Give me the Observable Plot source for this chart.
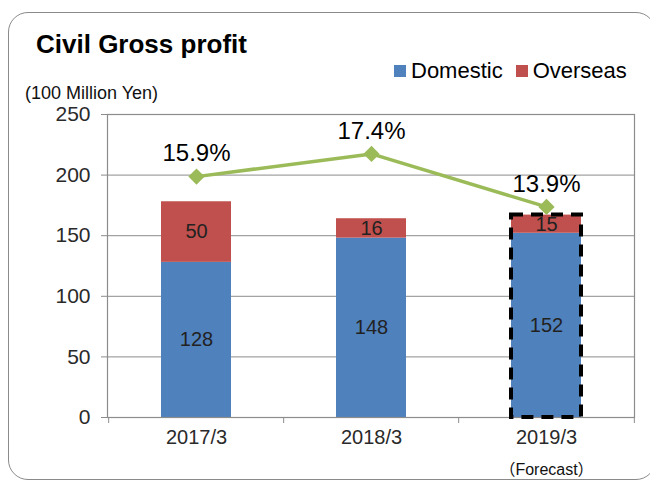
<!DOCTYPE html>
<html>
<head>
<meta charset="utf-8">
<script src="https://cdn.jsdelivr.net/npm/d3@7"></script>
<script src="https://cdn.jsdelivr.net/npm/@observablehq/plot@0.6"></script>
<style>
  html, body { margin: 0; padding: 0; background: #fff; }
  body { font-family: "Liberation Sans", Arial, "Noto Sans CJK JP", sans-serif; color: #000; }
  #wrap { position: relative; width: 650px; height: 484px; overflow: hidden; }
  #border { position: absolute; left: 8px; top: 12px; width: 648px; height: 468px;
            border: 1.5px solid #8a8a8a; border-radius: 20px; box-sizing: border-box; }
  #title { position: absolute; left: 36px; top: 31px; font-size: 26px; font-weight: bold; line-height: 1; white-space: nowrap; }
  #unit { position: absolute; left: 25px; top: 84px; font-size: 18px; line-height: 1; white-space: nowrap; color: #111; }
  #legend { position: absolute; left: 394px; top: 60px; display: flex; align-items: center; font-size: 22px; line-height: 1; white-space: nowrap; }
  #legend .sw { width: 12px; height: 12px; margin-right: 5px; }
  #legend .item { display: flex; align-items: center; margin-right: 13px; }
  #chart { position: absolute; left: 0; top: 0; }
</style>
</head>
<body>
<div id="wrap">
  <div id="chart"></div>
  <div id="border"></div>
  <div id="title"></div>
  <div id="unit"></div>
  <div id="legend"></div>
</div>
<script>
// ---- data ----
const titleText = "Civil Gross profit";
const unitText = "(100 Million Yen)";
const categories = ["2017/3", "2018/3", "2019/3"];
const seriesNames = ["Domestic", "Overseas"];
const seriesColors = ["#4F81BD", "#C0504D"];
const domestic = [128, 148, 152];
const overseas = [50, 16, 15];
const marginPct = [15.9, 17.4, 13.9];
const forecastFlags = [false, false, true];
const forecastText = "（Forecast）";
const yTicks = [0, 50, 100, 150, 200, 250];
const yMax = 250;      // left axis max
const pctAxisMax = 20; // hidden secondary axis max (%)
const lineColor = "#9BBB59";

// ---- derived tables ----
const rows = [];
categories.forEach((c, i) => rows.push({cat: c, series: seriesNames[0], value: domestic[i]}));
categories.forEach((c, i) => rows.push({cat: c, series: seriesNames[1], value: overseas[i]}));
const totals = categories.map((c, i) => ({cat: c, total: domestic[i] + overseas[i], forecast: forecastFlags[i]}));
const pctRows = categories.map((c, i) => ({cat: c, pct: marginPct[i], yv: marginPct[i] / pctAxisMax * yMax}));
const forecastRows = categories.filter((c, i) => forecastFlags[i]).map(c => ({cat: c, label: forecastText}));

// ---- html text ----
document.getElementById("title").textContent = titleText;
document.getElementById("unit").textContent = unitText;
const lg = document.getElementById("legend");
seriesNames.forEach((s, i) => {
  const it = document.createElement("div"); it.className = "item";
  const sw = document.createElement("div"); sw.className = "sw"; sw.style.background = seriesColors[i];
  const tx = document.createElement("span"); tx.textContent = s;
  it.appendChild(sw); it.appendChild(tx); lg.appendChild(it);
});

// ---- chart ----
const W = 650, H = 484, mL = 107, mR = 16, mT = 114, mB = 67;
const step = (W - mL - mR) / categories.length;
const font = "Liberation Sans, Arial, sans-serif";

const chart = Plot.plot({
  width: W, height: H,
  marginLeft: mL, marginRight: mR, marginTop: mT, marginBottom: mB,
  style: {fontFamily: font, background: "transparent", color: "#222"},
  x: {domain: categories, paddingInner: 0.6, paddingOuter: 0.3, axis: null, label: null},
  y: {domain: [0, yMax], axis: null, label: null},
  color: {domain: seriesNames, range: seriesColors},
  marks: [
    Plot.gridY(yTicks, {stroke: "#8c8c8c", strokeOpacity: 1, strokeWidth: 1}),
    Plot.barY(rows, {x: "cat", y: "value", fill: "series"}),
    Plot.text(rows, Plot.stackY({x: "cat", y: "value", text: d => String(d.value), fontSize: 20, fill: "#222", style: "letter-spacing:1.5px"})),
    Plot.frame({stroke: "#8c8c8c", strokeWidth: 1.2}),
    Plot.axisY(yTicks, {label: null, tickSize: 6, tickPadding: 11, fontSize: 21, stroke: "#8c8c8c", fill: "#2a2a2a", style: "letter-spacing:2px"}),
    Plot.axisX(categories, {label: null, tickSize: 0, tickPadding: 12, fontSize: 20, fill: "#2a2a2a", style: "letter-spacing:2px"}),
    // category boundary ticks below the axis
    Plot.ruleX(categories, {x: d => d, y1: 0, y2: 0, dx: -step / 2, insetBottom: -6, stroke: "#8c8c8c"}),
    Plot.ruleX(categories.slice(-1), {x: d => d, y1: 0, y2: 0, dx: step / 2, insetBottom: -6, stroke: "#8c8c8c"}),
    Plot.barY(totals.filter(d => d.forecast), {x: "cat", y: "total", fill: "none", stroke: "#000", strokeWidth: 4, strokeDasharray: "12,8"}),
    Plot.line(pctRows, {x: "cat", y: "yv", stroke: lineColor, strokeWidth: 3.5}),
    Plot.dot(pctRows, {x: "cat", y: "yv", symbol: "square", rotate: 45, r: 6.5, fill: lineColor, stroke: "none"}),
    Plot.text(pctRows, {x: "cat", y: "yv", text: d => d.pct.toFixed(1) + "%", fontSize: 24, fill: "#000", dy: -23}),
    Plot.text(forecastRows, {x: "cat", text: "label", frameAnchor: "bottom", dy: 57, fontSize: 16, fill: "#111", fontFamily: "Liberation Sans, Noto Sans CJK JP, sans-serif"})
  ]
});
document.getElementById("chart").appendChild(chart);
</script>
</body>
</html>
